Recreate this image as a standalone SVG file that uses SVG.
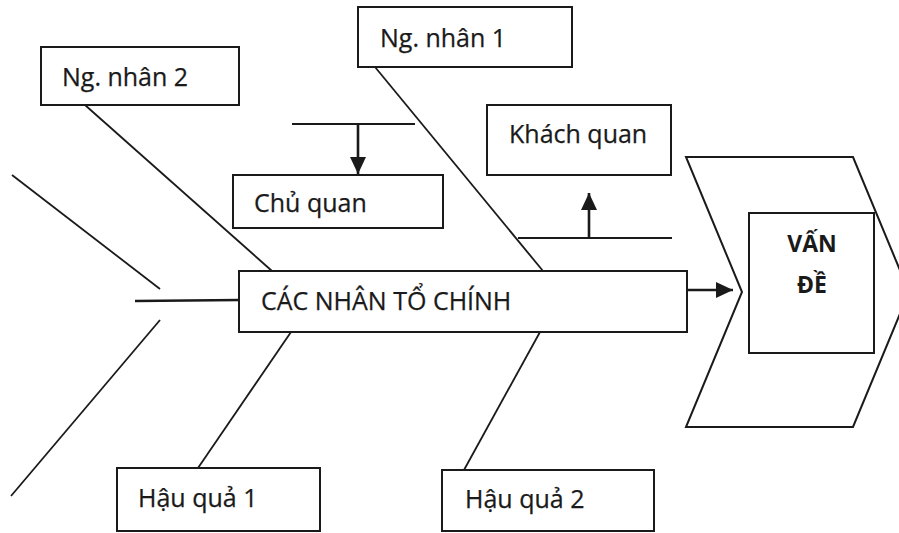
<svg xmlns="http://www.w3.org/2000/svg" width="899" height="533" viewBox="0 0 899 533">
<style>
.box{fill:#fff;stroke:#1a1a1a;stroke-width:2}
.ln{fill:none;stroke:#1a1a1a;stroke-width:1.8}
.ar{fill:none;stroke:#1a1a1a;stroke-width:2.6}
.t{font-family:"Open Sans","Noto Sans","DejaVu Sans",sans-serif;font-size:25px;fill:#1a1a1a;stroke:#1a1a1a;stroke-width:0.25}
.tb{font-family:"Open Sans","Noto Sans","DejaVu Sans",sans-serif;font-size:23px;font-weight:bold;fill:#1a1a1a;text-anchor:middle}
</style>
<defs>
<marker id="ah" markerUnits="userSpaceOnUse" markerWidth="18" markerHeight="18" viewBox="0 0 18 18" refX="17" refY="9" orient="auto">
<path d="M0,1 L17,9 L0,17 Z" fill="#1a1a1a"/>
</marker>
</defs>
<rect width="899" height="533" fill="#fff"/>
<g id="connectors">
<line class="ln" x1="12" y1="175" x2="160" y2="289"/>
<line class="ln" x1="160" y1="320" x2="11" y2="496"/>
<line class="ln" x1="135" y1="301" x2="240" y2="300" style="stroke-width:2.4"/>
<line class="ln" x1="85" y1="105" x2="272" y2="271"/>
<line class="ln" x1="375" y1="67" x2="543" y2="271"/>
<line class="ln" x1="291" y1="332" x2="198" y2="468"/>
<line class="ln" x1="540" y1="332" x2="464" y2="470"/>
<line class="ln" x1="292" y1="124" x2="415" y2="124"/>
<line class="ar" x1="358" y1="124" x2="358" y2="174" marker-end="url(#ah)"/>
<line class="ln" x1="518" y1="238" x2="672" y2="238"/>
<line class="ar" x1="589" y1="238" x2="589" y2="193" marker-end="url(#ah)"/>
<line class="ar" x1="687" y1="290" x2="733" y2="290" marker-end="url(#ah)"/>
</g>
<g id="chevron">
<path class="box" d="M686,157 L853,157 L909,292 L853,427 L686,427 L742,292 Z"/>
</g>
<g id="van-de">
<rect class="box" x="749" y="213" width="125" height="140"/>
<text class="tb" x="812" y="252">VẤN</text>
<text class="tb" x="812" y="293">ĐỀ</text>
</g>
<g id="ng-nhan-2">
<rect class="box" x="41" y="47" width="198" height="58"/>
<text class="t" x="62" y="86">Ng. nhân 2</text>
</g>
<g id="ng-nhan-1">
<rect class="box" x="358" y="7" width="214" height="60"/>
<text class="t" x="380" y="47">Ng. nhân 1</text>
</g>
<g id="chu-quan">
<rect class="box" x="233" y="175" width="210" height="53"/>
<text class="t" x="254" y="212">Chủ quan</text>
</g>
<g id="khach-quan">
<rect class="box" x="487" y="105" width="184" height="70"/>
<text class="t" x="509" y="143">Khách quan</text>
</g>
<g id="cac-nhan-to">
<rect class="box" x="239" y="271" width="448" height="61"/>
<text class="t" x="261" y="310">CÁC NHÂN TỔ CHÍNH</text>
</g>
<g id="hau-qua-1">
<rect class="box" x="117" y="468" width="203" height="63"/>
<text class="t" x="138" y="507">Hậu quả 1</text>
</g>
<g id="hau-qua-2">
<rect class="box" x="442" y="470" width="212" height="61"/>
<text class="t" x="465" y="508">Hậu quả 2</text>
</g>
</svg>
